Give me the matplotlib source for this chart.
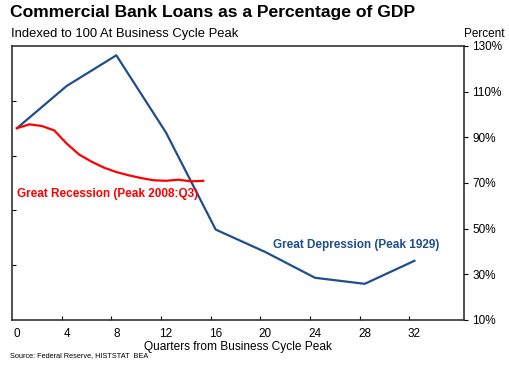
import numpy as np
import matplotlib
matplotlib.use("Agg")
import matplotlib.pyplot as plt

plt.rcParams['font.family'] = ['Liberation Sans', 'DejaVu Sans']

# Great Depression (annual, every 4 quarters), index = 100 at peak
dep_q = [0, 4, 8, 12, 16, 20, 24, 28, 32]
dep_idx = [100, 107.7, 113.3, 99.2, 81.5, 77.4, 72.7, 71.6, 75.8]

# Great Recession (quarterly)
rec_q = list(range(0, 16))
rec_idx = [100, 100.7, 100.4, 99.6, 97.2, 95.2, 93.9, 92.8, 92.0, 91.4,
           90.9, 90.5, 90.4, 90.6, 90.3, 90.4]

x_labels = [0, 4, 8, 12, 16, 20, 24, 28, 32]
right_ticks = [10, 30, 50, 70, 90, 110, 130]

blue = '#1F4E8C'
red = '#FF0000'

fig = plt.figure(figsize=(5.1, 3.65), dpi=100)
ax = fig.add_axes([0.0235, 0.1233, 0.8865, 0.7507])

ax.plot(dep_q, dep_idx, color=blue, lw=1.6)
ax.plot(rec_q, rec_idx, color=red, lw=1.6)

ax.set_xlim(-0.4, 36)
ax.set_ylim(65, 115)

# left axis: ticks only, no labels
ax.set_yticks([75, 85, 95, 105])
ax.set_yticklabels([])
ax.tick_params(axis='y', direction='in', length=3, width=0.8)

# x axis: labels at 4k, tick marks between categories
ax.set_xticks(x_labels)
ax.set_xticklabels([str(v) for v in x_labels], fontsize=8.5)
ax.tick_params(axis='x', which='major', length=0, pad=6)
ax.set_xticks([v - 0.4 for v in x_labels[1:]], minor=True)
ax.tick_params(axis='x', which='minor', direction='in', length=3, width=0.8)
ax.set_xlabel('Quarters from Business Cycle Peak', fontsize=8.6, labelpad=0.5)

for s in ax.spines.values():
    s.set_linewidth(1.2)
    s.set_color('#333333')

# right axis in percent
ax2 = ax.twinx()
ax2.set_ylim(10, 130)
ax2.set_yticks(right_ticks)
ax2.set_yticklabels([f'{v}%' for v in right_ticks], fontsize=8.5)
ax2.tick_params(axis='y', direction='out', length=3, width=0.8, pad=3)
for s in ax2.spines.values():
    s.set_visible(False)

ax.text(0.0, 88.0, 'Great Recession (Peak 2008:Q3)', color=red,
        fontsize=8.5, fontweight='bold', va='center', ha='left')
ax.text(20.6, 78.7, 'Great Depression (Peak 1929)', color=blue,
        fontsize=8.5, fontweight='bold', va='center', ha='left')

fig.text(0.02, 0.965, 'Commercial Bank Loans as a Percentage of GDP',
         fontsize=12.6, fontweight='bold', va='center', ha='left')
fig.text(0.022, 0.908, 'Indexed to 100 At Business Cycle Peak',
         fontsize=9.4, va='center', ha='left')
fig.text(0.99, 0.908, 'Percent', fontsize=8.5, va='center', ha='right')
fig.text(0.02, 0.027, 'Source: Federal Reserve, HISTSTAT  BEA',
         fontsize=5.3, va='center', ha='left')

fig.savefig('out.png', dpi=100)
